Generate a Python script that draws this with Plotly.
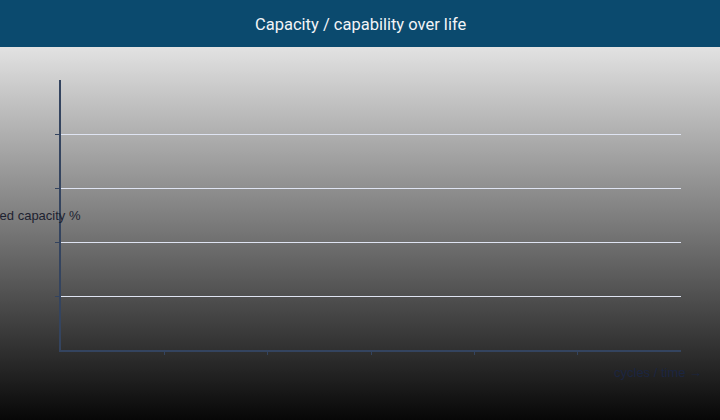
import base64
import plotly.graph_objects as go

# chart text
title_text = 'Capacity / capability over life'
y_title = 'Retained capacity %'
x_title = 'cycles / time \u2192'

# axis ticks (no data plotted yet)
x_ticks = [1, 2, 3, 4, 5]
y_ticks = [20, 40, 60, 80]
x_range = [0, 6]
y_range = [0, 100]

cycles = []
capacity = []

W, H = 720, 420
L, R, T, B = 61, 39, 80, 70
HEADER = 47

# page background: header band + grey-to-black gradient
bg_svg = f'''<svg xmlns="http://www.w3.org/2000/svg" width="{W}" height="{H}" viewBox="0 0 {W} {H}" preserveAspectRatio="none">
<defs><linearGradient id="g" x1="0" y1="0" x2="0" y2="1">
<stop offset="0" stop-color="#e2e2e2"/><stop offset="1" stop-color="#070707"/></linearGradient></defs>
<rect x="0" y="{HEADER}" width="{W}" height="{H - HEADER}" fill="url(#g)"/>
<rect x="0" y="0" width="{W}" height="{HEADER}" fill="#0b4a6e"/>
</svg>'''
bg_src = 'data:image/svg+xml;base64,' + base64.b64encode(bg_svg.encode()).decode()

pw, ph = W - L - R, H - T - B

fig = go.Figure(go.Scatter(x=cycles, y=capacity, mode='lines', showlegend=False))

axis_col = '#34445f'
grid_col = '#dfe4f2'

fig.update_layout(
    width=W, height=H,
    margin=dict(l=L, r=R, t=T, b=B),
    paper_bgcolor='#070707',
    plot_bgcolor='rgba(0,0,0,0)',
    showlegend=False,
    images=[dict(
        source=bg_src, xref='paper', yref='paper',
        x=-L / pw, y=1 + T / ph, sizex=W / pw, sizey=H / ph,
        xanchor='left', yanchor='top', sizing='stretch', layer='below',
    )],
    xaxis=dict(
        range=x_range, tickvals=x_ticks, showticklabels=False,
        ticks='outside', ticklen=3, tickcolor=axis_col, tickwidth=1,
        showline=True, linecolor=axis_col, linewidth=2,
        showgrid=False, zeroline=False, fixedrange=True,
    ),
    yaxis=dict(
        range=y_range, tickvals=y_ticks, showticklabels=False,
        ticks='outside', ticklen=4, tickcolor=axis_col, tickwidth=1,
        showline=True, linecolor=axis_col, linewidth=2,
        showgrid=True, gridcolor=grid_col, gridwidth=1,
        zeroline=False, fixedrange=True,
    ),
    annotations=[
        dict(text=title_text, xref='paper', yref='paper', x=0.5 - (L - R) / 2 / pw, y=1,
             yshift=T - 24, xanchor='center', yanchor='middle', showarrow=False,
             font=dict(family='Roboto', size=16.5, color='#f2f4f7')),
        dict(text=y_title, xref='paper', yref='paper', x=0, y=0.5, xshift=22,
             xanchor='right', yanchor='middle', showarrow=False,
             font=dict(family='Liberation Sans', size=13, color='#1d2230')),
        dict(text=x_title, xref='paper', yref='paper', x=1, y=0, xshift=23,
             yshift=-22, xanchor='right', yanchor='middle', showarrow=False,
             font=dict(family='Liberation Sans', size=13, color='#1b2540')),
    ],
)

fig.write_html('out.html', config={'displayModeBar': False},
               post_script="document.body.style.margin='0';")
